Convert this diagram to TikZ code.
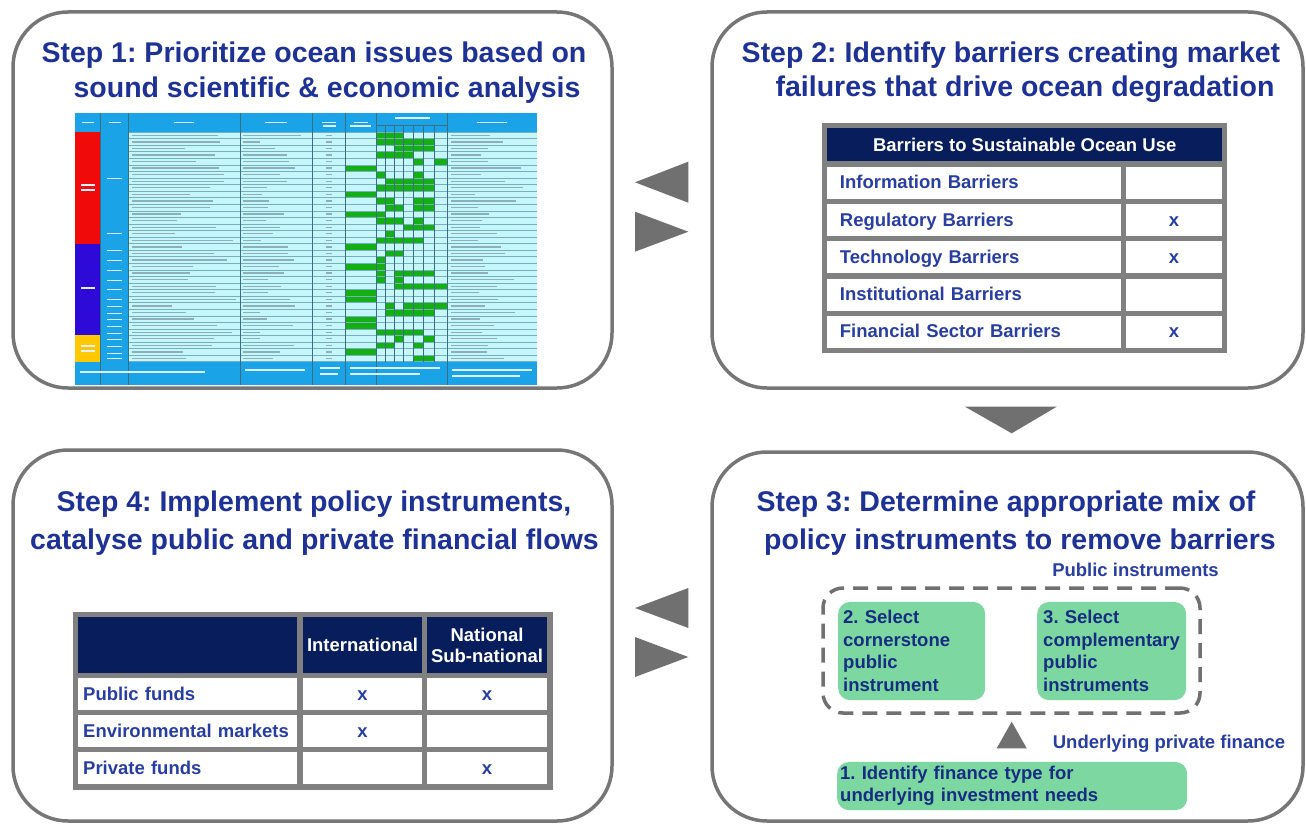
\documentclass[tikz,border=0pt]{standalone}
\usepackage{fontspec}
\setmainfont{Liberation Sans}
\frenchspacing
\definecolor{panelgray}{RGB}{118,118,118}
\definecolor{titleblue}{RGB}{30,50,150}
\definecolor{navy}{RGB}{8,30,92}
\definecolor{txtblue}{RGB}{40,62,160}
\definecolor{tgray}{RGB}{128,128,128}
\definecolor{arrowgray}{RGB}{112,112,112}
\definecolor{mint}{RGB}{125,215,160}
\definecolor{darkblue}{RGB}{22,45,130}
\definecolor{hdrblue}{RGB}{27,163,232}
\definecolor{cyanl}{RGB}{196,246,250}
\definecolor{gridl}{RGB}{60,110,130}
\definecolor{gridh}{RGB}{120,175,190}
\definecolor{ftxt}{RGB}{140,175,185}
\definecolor{tred}{RGB}{240,10,10}
\definecolor{tviolet}{RGB}{45,10,215}
\definecolor{tyellow}{RGB}{255,200,0}
\definecolor{tgreen}{RGB}{20,175,20}
\begin{document}
\begin{tikzpicture}[x=1pt,y=-1pt,
  panel/.style={draw=panelgray, line width=3.5pt, rounded corners=55pt},
  title/.style={font=\fontsize{28.5}{32}\selectfont\bfseries, text=titleblue, inner sep=0pt, anchor=base},
  tfont/.style={font=\fontsize{18.5}{22}\selectfont\bfseries},
  lcell/.style={tfont, fill=white, anchor=north west, inner ysep=0pt, inner xsep=13pt, minimum height=32pt, text height=13.5pt, text depth=1pt, text width=268pt, align=left, text=txtblue},
  rcell/.style={tfont, fill=white, anchor=north west, inner sep=0pt, minimum height=32pt, text height=13.5pt, text depth=1pt, minimum width=95.7pt, align=center, text=txtblue},
  hcell/.style={tfont, fill=navy, anchor=north west, inner sep=0pt, align=center, text=white},
  frame/.style={fill=tgray, draw=none},
  greenbox/.style={tfont, fill=mint, rounded corners=12pt, anchor=north west, inner ysep=0pt, align=left, text=darkblue},
  bluelabel/.style={tfont, text=txtblue, inner sep=0pt},
  tri/.style={fill=arrowgray, draw=none},
  ftext/.style={draw=ftxt, line width=1.3pt},
  wtext/.style={draw=white!85!hdrblue, line width=1.2pt}
]
\useasboundingbox (0,0) rectangle (1306,824);
\fill[white] (0,0) rectangle (1306,824);

% ---------- panels ----------
\draw[panel] (13,12) rectangle (612,388);
\draw[panel] (712,12) rectangle (1303,388);
\draw[panel] (712,452) rectangle (1303,821);
\draw[panel] (13,450) rectangle (612,821);

% ---------- titles ----------
\node[title] (t1a) at (314,63) {Step 1: Prioritize ocean issues based on};
\node[title] (t1b) at (327,98) {sound scientific \& economic analysis};
\node[title] (t2a) at (1011,63) {Step 2: Identify barriers creating market};
\node[title] (t2b) at (1025,97) {failures that drive ocean degradation};
\node[title] (t3a) at (1006,511) {Step 3: Determine appropriate mix of};
\node[title] (t3b) at (1020,549) {policy instruments to remove barriers};
\node[title] (t4a) at (314,511) {Step 4: Implement policy instruments,};
\node[title] (t4b) at (314.5,549) {catalyse public and private financial flows};

% ---------- step 1 table ----------
\fill[hdrblue] (75,113) rectangle (537,132);
\fill[hdrblue] (75,361.7) rectangle (537,385);
\fill[cyanl] (128.3,132) rectangle (537,361.7);
\fill[hdrblue] (100.7,132) rectangle (128.3,361.7);
\fill[tred] (75,132) rectangle (100.7,244);
\fill[tviolet] (75,244) rectangle (100.7,335);
\fill[tyellow] (75,335) rectangle (100.7,361.7);
% green cells: row / x1 / x2
\foreach \r/\a/\b in {0/376/403.3, 1/376/434.3, 2/394/434.3, 3/376/413.3, 4/413.3/423.3, 4/434.3/447.7,
  5/345.3/376, 6/376/385, 6/413.3/423.3, 7/385/434.3, 8/376/434.3, 9/345.3/376, 10/376/394, 10/413.3/434.3,
  11/385/403.3, 11/413.3/434.3, 12/345.3/385, 13/376/403.3, 13/413.3/423.3, 14/403.3/434.3, 15/385/394,
  16/376/423.3, 17/345.3/376, 18/385/403.3, 19/376/385, 20/345.3/385, 21/376/385, 21/394/434.3,
  22/376/385, 22/394/403.3, 23/394/447.7, 24/345.3/376, 25/345.3/376, 26/385/394, 26/403.3/447.7,
  27/385/434.3, 28/345.3/376, 29/345.3/376, 30/376/423.3, 31/394/403.3, 31/423.3/434.3,
  32/376/394, 32/413.3/423.3, 33/345.3/376, 34/413.3/434.3}
  { \fill[tgreen] (\a,132+6.563*\r) rectangle (\b,132+6.563*\r+6.563); }
% fake text
\pgfmathsetseed{11}
\foreach \i in {0,...,34} {
  \pgfmathsetmacro\yy{132+6.563*\i+3.3}
  \pgfmathsetmacro\la{40+70*rnd}
  \pgfmathsetmacro\lb{15+45*rnd}
  \pgfmathsetmacro\lc{20+55*rnd}
  \draw[ftext] (132,\yy) -- ++(\la,0);
  \draw[ftext] (243,\yy) -- ++(\lb,0);
  \draw[ftext] (326,\yy) -- ++(6,0);
  \draw[ftext] (451,\yy) -- ++(\lc,0);
}
% horizontal grid
\foreach \i in {0,...,35} { \draw[gridh, line width=0.5pt] (128.3,132+6.563*\i) -- (537,132+6.563*\i); }
% vertical grid
\foreach \x in {100.7,128.3,240,312.7,345.3,376,447.7} { \draw[gridl, line width=0.7pt] (\x,113) -- (\x,385); }
\foreach \x in {385,394,403.3,413.3,423.3,434.3} { \draw[gridl, line width=0.5pt] (\x,125.7) -- (\x,361.7); }
\draw[gridl, line width=0.5pt] (376,125.7) -- (447.7,125.7);
% header / footer / labels
\foreach \x/\w in {87.8/12, 114.5/12, 184/20, 276/22, 329/14, 360.6/14, 492/30} { \draw[wtext] (\x-\w/2,122.5) -- (\x+\w/2,122.5); }
\draw[wtext] (395,118) -- (430,118);
\draw[wtext] (323,126) -- (336,126);
\draw[wtext] (350,126) -- (371,126);
\draw[wtext] (80,372) -- (205,372);
\draw[wtext] (245,370) -- (305,370);
\draw[wtext] (320,368) -- (340,368);
\draw[wtext] (320,374) -- (338,374);
\draw[wtext] (350,368) -- (440,368);
\draw[wtext] (350,374) -- (420,374);
\draw[wtext] (452,370) -- (532,370);
\draw[wtext] (452,376) -- (520,376);
\draw[wtext] (81,185) -- (95,185);
\draw[wtext] (81,190) -- (95,190);
\draw[wtext] (81,288) -- (95,288);
\draw[wtext] (81,346) -- (95,346);
\draw[wtext] (81,351) -- (95,351);
\foreach \yy in {178,233,250,260,270,280,289,299,306,313,319,326,333,339,346,353,358} { \draw[wtext, line width=0.9pt] (107,\yy) -- (122,\yy); }

% ---------- step 2 table ----------
\fill[frame] (821.7,123) rectangle (1226.7,353);
\node[hcell, minimum width=395pt, minimum height=33pt] (bh) at (827,128) {Barriers to Sustainable Ocean Use};
\node[lcell] (b1) at (826.7,166.5) {Information Barriers};
\node[rcell] (b1x) at (1126,166.5) {};
\node[lcell] (b2) at (826.7,203.8) {Regulatory Barriers};
\node[rcell] (b2x) at (1126,203.8) {x};
\node[lcell] (b3) at (826.7,241) {Technology Barriers};
\node[rcell] (b3x) at (1126,241) {x};
\node[lcell] (b4) at (826.7,278.3) {Institutional Barriers};
\node[rcell] (b4x) at (1126,278.3) {};
\node[lcell] (b5) at (826.7,315.5) {Financial Sector Barriers};
\node[rcell] (b5x) at (1126,315.5) {x};

% ---------- step 4 table ----------
\fill[frame] (72.7,611.7) rectangle (552.7,790);
\node[hcell, minimum width=218.7pt, minimum height=55.7pt] (h0) at (78,617) {};
\node[hcell, minimum width=118.7pt, minimum height=55.7pt] (h1) at (303,617) {International};
\node[hcell, minimum width=119.7pt, minimum height=55.7pt] (h2) at (427,617) {National\\[-1pt]Sub-national};
\node[lcell, inner xsep=5pt, text width=208.7pt] (f1) at (78,678) {Public funds};
\node[rcell, minimum width=118.7pt] (f1a) at (303,678) {x};
\node[rcell, minimum width=119.7pt] (f1b) at (427,678) {x};
\node[lcell, inner xsep=5pt, text width=208.7pt] (f2) at (78,715) {Environmental markets};
\node[rcell, minimum width=118.7pt] (f2a) at (303,715) {x};
\node[rcell, minimum width=119.7pt] (f2b) at (427,715) {};
\node[lcell, inner xsep=5pt, text width=208.7pt] (f3) at (78,752) {Private funds};
\node[rcell, minimum width=118.7pt] (f3a) at (303,752) {};
\node[rcell, minimum width=119.7pt] (f3b) at (427,752) {x};

% ---------- step 3 ----------
\node[bluelabel] (pil) at (1135.5,570) {Public instruments};
\node[draw=arrowgray, line width=3.5pt, dash pattern=on 15pt off 9pt, rounded corners=20pt,
      minimum width=377pt, minimum height=125pt, inner sep=0pt] (pub) at (1011.5,650.5) {};
\node[greenbox, inner xsep=5pt, text width=137pt, minimum height=98.3pt] (g2) at (838,601.7)
  {2. Select\\[0.5pt]cornerstone\\[0.5pt]public\\[0.5pt]instrument};
\node[greenbox, inner xsep=6pt, text width=137pt, minimum height=98.3pt] (g3) at (1037,601.7)
  {3. Select\\[0.5pt]complementary\\[0.5pt]public\\[0.5pt]instruments};
\node[bluelabel] (upl) at (1169,744) {Underlying private finance};
\node[greenbox, inner xsep=3pt, text width=344pt, minimum height=48.3pt] (g1) at (837,761.7)
  {1. Identify finance type for\\underlying investment needs};
\fill[tri] (996.7,748.3) -- (1026.7,748.3) -- (1011.7,721.7) -- cycle;

% ---------- arrows between panels ----------
\fill[tri] (688.3,161.7) -- (688.3,202.7) -- (635,182.3) -- cycle;
\fill[tri] (635,211.7) -- (635,251.7) -- (688.3,231.7) -- cycle;
\fill[tri] (688.3,588) -- (688.3,628) -- (635,608) -- cycle;
\fill[tri] (635,637) -- (635,677) -- (688.3,657) -- cycle;
\fill[tri] (965,406.7) -- (1056.7,406.7) -- (1011.7,433.3) -- cycle;
\end{tikzpicture}
\end{document}
